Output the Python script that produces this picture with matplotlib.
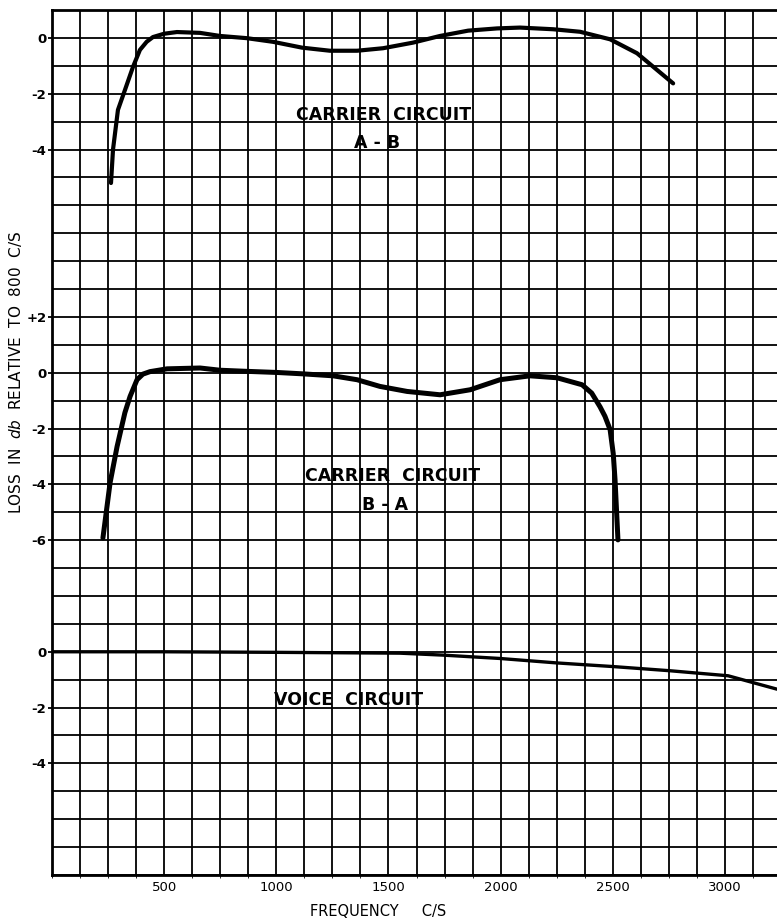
import matplotlib
matplotlib.use("Agg")
import matplotlib.pyplot as plt
import numpy as np

# Carrier circuit A-B  (frequency c/s, loss db rel. 800 c/s)
freq_ab = [263, 272, 294, 325, 361, 392, 422, 450, 500, 557, 660, 749, 869,
           985, 1115, 1239, 1360, 1476, 1609, 1730, 1855, 1984, 2086, 2234,
           2354, 2488, 2608, 2769]
loss_ab = [-5.2, -4.0, -2.58, -1.87, -1.04, -0.43, -0.14, 0.03, 0.15, 0.21,
           0.18, 0.07, -0.01, -0.14, -0.35, -0.46, -0.46, -0.37, -0.17, 0.07,
           0.26, 0.34, 0.37, 0.31, 0.22, -0.05, -0.55, -1.63]

# Carrier circuit B-A
freq_ba = [227, 259, 290, 325, 348, 379, 405, 437, 513, 660, 749, 869, 1003,
           1119, 1253, 1360, 1462, 1583, 1730, 1864, 1997, 2131, 2251, 2363,
           2406, 2443, 2465, 2488, 2502, 2510, 2523]
loss_ba = [-5.92, -3.94, -2.65, -1.43, -0.85, -0.25, -0.05, 0.04, 0.14, 0.17,
           0.09, 0.05, 0.01, -0.04, -0.11, -0.25, -0.49, -0.67, -0.79, -0.61,
           -0.25, -0.11, -0.18, -0.43, -0.73, -1.22, -1.56, -2.04, -2.9,
           -3.84, -5.99]

# Voice circuit
freq_voice = [0, 500, 1000, 1551, 1743, 1997, 2251, 2501, 2755, 3014, 3232]
loss_voice = [0.0, 0.0, -0.02, -0.05, -0.12, -0.24, -0.40, -0.53, -0.68,
              -0.86, -1.34]

# tick labels per panel
ab_ticks = [0, -2, -4]
ba_ticks = [2, 0, -2, -4, -6]
voice_ticks = [0, -2, -4]
freq_ticks = [500, 1000, 1500, 2000, 2500, 3000]

# vertical offset of each panel on the common grid
OFF_AB, OFF_BA, OFF_VOICE = 0, -12, -22

fig = plt.figure(figsize=(7.77, 9.18), dpi=100)
ax = fig.add_axes([52 / 777, 1 - 875 / 918, 1 - 52 / 777, 865 / 918])

ax.set_xlim(0, 3232)
ax.set_ylim(-30, 1)

# graph paper grid
ax.set_xticks(np.arange(0, 3233, 125), minor=True)
ax.set_yticks(np.arange(-30, 2, 1), minor=True)
ax.grid(which="both", color="black", linewidth=1.3)
ax.set_axisbelow(True)

# curves
style = dict(color="black", solid_capstyle="round", solid_joinstyle="round")
ax.plot(freq_ab, np.array(loss_ab) + OFF_AB, lw=3.0, **style)
ax.plot(freq_ba, np.array(loss_ba) + OFF_BA, lw=3.6, **style)
ax.plot(freq_voice, np.array(loss_voice) + OFF_VOICE, lw=2.4, **style)


def fmt(t):
    return "+%d" % t if t > 0 else str(t)


# ticks
ypos = ([t + OFF_AB for t in ab_ticks] + [t + OFF_BA for t in ba_ticks]
        + [t + OFF_VOICE for t in voice_ticks])
ylab = [fmt(t) for t in ab_ticks + ba_ticks + voice_ticks]
ax.set_yticks(ypos)
ax.set_yticklabels(ylab, fontsize=9.5, fontweight="bold")
ax.set_xticks(freq_ticks)
ax.set_xticklabels([str(f) for f in freq_ticks], fontsize=9.5)
ax.tick_params(axis="x", length=0, pad=4)
ax.tick_params(axis="y", which="major", length=3, width=1.3, pad=1)
ax.tick_params(axis="y", which="minor", length=0)

for side in ["left", "bottom", "top"]:
    ax.spines[side].set_linewidth(2.0)
ax.spines["right"].set_visible(False)

# labels inside the graph
lbl = dict(fontsize=12.5, fontweight="bold", ha="center", va="center")
ax.text(1476, -2.76, "CARRIER  CIRCUIT", **lbl)
ax.text(1449, -3.77, "A - B", **lbl)
ax.text(1516, -15.7, "CARRIER  CIRCUIT", **lbl)
ax.text(1485, -16.74, "B - A", **lbl)
ax.text(1320, -23.73, "VOICE  CIRCUIT", **lbl)

fig.text(16 / 777, 1 - 372 / 918, r"LOSS  IN  $\mathit{db}$  RELATIVE  TO  800  C/S",
         rotation=90, ha="center", va="center", fontsize=11)
fig.text(378 / 777, 1 - 911 / 918, "FREQUENCY     C/S", ha="center",
         va="center", fontsize=10.5)

fig.savefig("out.png", dpi=100, facecolor="white")
